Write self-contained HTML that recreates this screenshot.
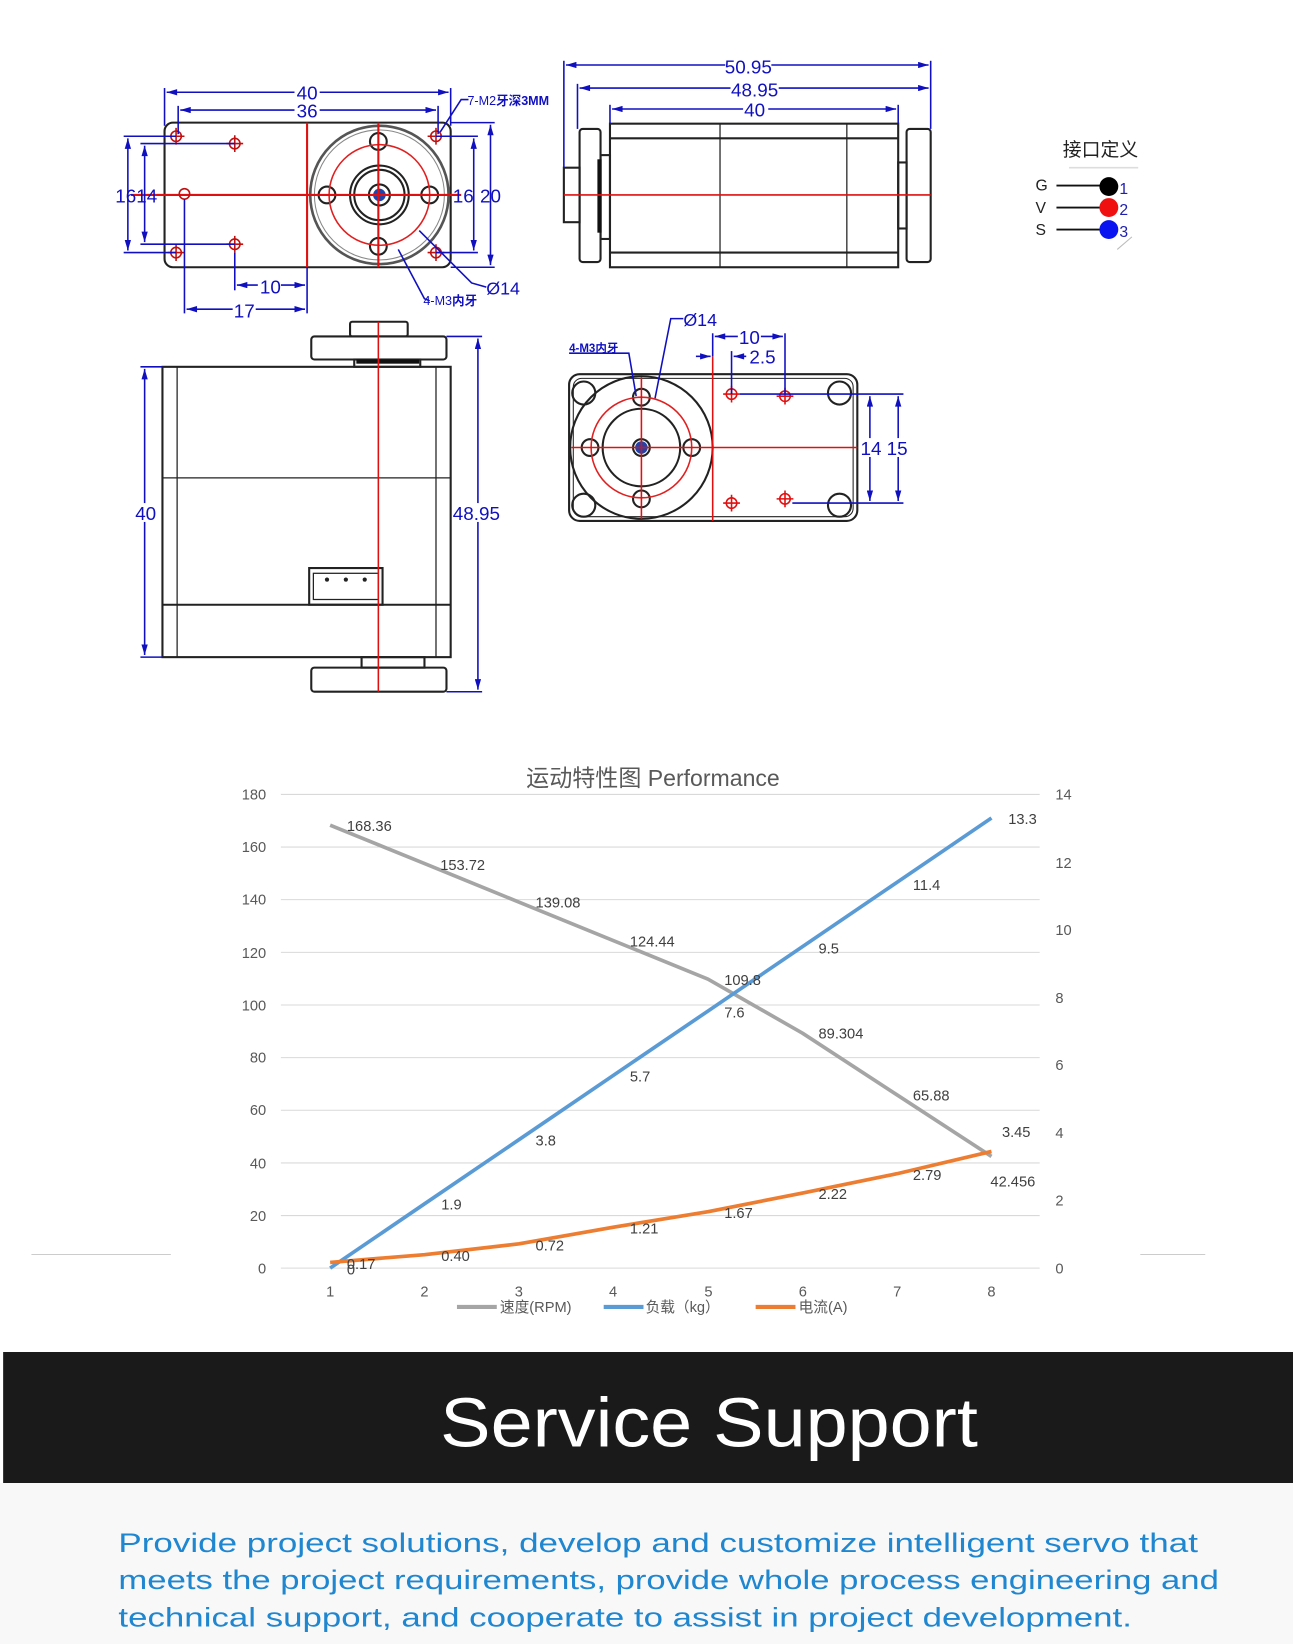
<!DOCTYPE html>
<html><head><meta charset="utf-8"><style>
html,body{margin:0;padding:0;background:#fff;}
svg{display:block;}
text{font-family:"Liberation Sans","Noto Sans CJK SC",sans-serif;}
</style></head><body>
<svg width="1293" height="1644" viewBox="0 0 1233.7 1568.6" xmlns="http://www.w3.org/2000/svg">
<rect width="1233.7" height="1568.6" fill="#fff"/>
<defs>
<marker id="ar" viewBox="0 0 10 6" refX="10" refY="3" markerWidth="8" markerHeight="4" orient="auto-start-reverse"><path d="M0,0 L10,3 L0,6z" fill="#1010c0"/></marker>
</defs>

<!-- ===== Drawing 1 (top-left) ===== -->
<g fill="none" stroke="#222" stroke-width="2">
<rect x="157" y="117" width="273" height="138" rx="8"/>
<circle cx="362" cy="186" r="66" stroke="#555" stroke-width="2.5"/>
<circle cx="362" cy="186" r="62" stroke="#888" stroke-width="1"/>
<circle cx="362" cy="186" r="28"/>
<circle cx="362" cy="186" r="24"/>
<circle cx="362" cy="186" r="10"/>
<circle cx="361" cy="135" r="8"/><circle cx="361" cy="235" r="8"/>
<circle cx="312" cy="186" r="8"/><circle cx="410" cy="186" r="8"/>
</g>
<circle cx="362" cy="186" r="6" fill="#2244aa"/>
<circle cx="362" cy="186" r="48" fill="none" stroke="#e02020" stroke-width="1.5"/>
<g stroke="#e01010" stroke-width="2" fill="none">
<line x1="293" y1="117" x2="293" y2="255"/>
<line x1="125" y1="186" x2="440" y2="186"/>
<line x1="361" y1="117" x2="361" y2="255"/>
</g>
<g stroke="#c01010" stroke-width="1.5" fill="none">
<circle cx="168" cy="130" r="5"/><circle cx="224" cy="137" r="5"/><circle cx="176" cy="185" r="5"/>
<circle cx="224" cy="233" r="5"/><circle cx="168" cy="241" r="5"/><circle cx="416" cy="130" r="5"/><circle cx="416" cy="241" r="5"/>
<path d="M160 130h16M168 122v16M216 137h16M224 129v16M216 233h16M224 225v16M160 241h16M168 233v16M408 130h16M416 122v16M408 241h16M416 233v16"/>
</g>
<g stroke="#1010c0" stroke-width="1.5" fill="none">
<line x1="157" y1="84" x2="157" y2="120"/><line x1="430" y1="84" x2="430" y2="120"/>
<line x1="159" y1="88" x2="428" y2="88" marker-start="url(#ar)" marker-end="url(#ar)"/>
<line x1="170" y1="101" x2="170" y2="128"/><line x1="418" y1="101" x2="418" y2="128"/>
<line x1="172" y1="105" x2="416" y2="105" marker-start="url(#ar)" marker-end="url(#ar)"/>
<line x1="118" y1="130" x2="168" y2="130"/><line x1="118" y1="241" x2="168" y2="241"/>
<line x1="122" y1="132" x2="122" y2="239" marker-start="url(#ar)" marker-end="url(#ar)"/>
<line x1="134" y1="137" x2="224" y2="137"/><line x1="134" y1="233" x2="224" y2="233"/>
<line x1="138" y1="139" x2="138" y2="231" marker-start="url(#ar)" marker-end="url(#ar)"/>
<line x1="416" y1="130" x2="456" y2="130"/><line x1="416" y1="241" x2="456" y2="241"/>
<line x1="452" y1="132" x2="452" y2="239" marker-start="url(#ar)" marker-end="url(#ar)"/>
<line x1="430" y1="117" x2="472" y2="117"/><line x1="430" y1="255" x2="472" y2="255"/>
<line x1="468" y1="119" x2="468" y2="253" marker-start="url(#ar)" marker-end="url(#ar)"/>
<line x1="224" y1="241" x2="224" y2="277"/><line x1="293" y1="255" x2="293" y2="299"/>
<line x1="226" y1="272" x2="291" y2="272" marker-start="url(#ar)" marker-end="url(#ar)"/>
<line x1="176" y1="190" x2="176" y2="299"/>
<line x1="178" y1="295" x2="291" y2="295" marker-start="url(#ar)" marker-end="url(#ar)"/>
<path d="M420 126 L440 95 L447 95"/>
<path d="M400 220 L450 270 L464 274"/>
<path d="M380 238 L405 285 L410 287"/>
</g>
<g fill="#1010c0" font-size="18">
<rect x="281" y="78" width="24" height="18" fill="#fff"/><text x="293" y="95" text-anchor="middle">40</text>
<rect x="281" y="96" width="24" height="18" fill="#fff"/><text x="293" y="112" text-anchor="middle">36</text>
<text x="110" y="193" font-size="18">1614</text>
<text x="432" y="193">16</text><text x="458" y="193">20</text>
<rect x="246" y="264" width="22" height="18" fill="#fff"/><text x="258" y="280" text-anchor="middle">10</text>
<rect x="222" y="287" width="22" height="18" fill="#fff"/><text x="233" y="303" text-anchor="middle">17</text>
<text x="446" y="100" font-size="12">7-M2<tspan font-weight="bold">牙深3MM</tspan></text>
<text x="464" y="281" font-size="17">Ø14</text>
<text x="404" y="291" font-size="12">4-M3<tspan font-weight="bold">内牙</tspan></text>
</g>

<!-- ===== Drawing 2 (top-middle) ===== -->
<g fill="none" stroke="#222" stroke-width="2">
<rect x="582" y="118" width="275" height="137"/>
<line x1="582" y1="132" x2="857" y2="132"/><line x1="582" y1="241" x2="857" y2="241"/>
<line x1="687" y1="118" x2="687" y2="255" stroke-width="1.2"/><line x1="808" y1="118" x2="808" y2="255" stroke-width="1.2"/>
<rect x="553" y="123" width="20" height="127" rx="3"/>
<rect x="538" y="160" width="15" height="52"/>
<rect x="573" y="148" width="9" height="80"/>
<rect x="865" y="123" width="23" height="127" rx="3"/>
<rect x="857" y="155" width="8" height="63"/>
</g>
<rect x="570" y="152" width="4" height="70" fill="#111"/>
<line x1="538" y1="186" x2="888" y2="186" stroke="#e01010" stroke-width="1.5"/>
<g stroke="#1010c0" stroke-width="1.5" fill="none">
<line x1="538" y1="58" x2="538" y2="160"/><line x1="888" y1="58" x2="888" y2="123"/>
<line x1="540" y1="62" x2="886" y2="62" marker-start="url(#ar)" marker-end="url(#ar)"/>
<line x1="551" y1="80" x2="551" y2="123"/>
<line x1="553" y1="84" x2="886" y2="84" marker-start="url(#ar)" marker-end="url(#ar)"/>
<line x1="582" y1="100" x2="582" y2="118"/><line x1="857" y1="100" x2="857" y2="118"/>
<line x1="584" y1="104" x2="855" y2="104" marker-start="url(#ar)" marker-end="url(#ar)"/>
</g>
<g fill="#1010c0" font-size="18" text-anchor="middle">
<rect x="692" y="54" width="44" height="17" fill="#fff"/><text x="714" y="70">50.95</text>
<rect x="697" y="76" width="46" height="17" fill="#fff"/><text x="720" y="92">48.95</text>
<rect x="709" y="96" width="24" height="16" fill="#fff"/><text x="720" y="111">40</text>
</g>

<!-- connector legend -->
<text x="1050" y="149" font-size="18" text-anchor="middle" fill="#222">接口定义</text>
<line x1="1020" y1="160" x2="1086" y2="160" stroke="#ddd" stroke-width="1.5"/>
<g font-size="15" fill="#222">
<text x="988" y="182">G</text><text x="988" y="203">V</text><text x="988" y="224">S</text>
</g>
<g stroke="#111" stroke-width="1.8">
<line x1="1008" y1="177" x2="1050" y2="177"/><line x1="1008" y1="198" x2="1050" y2="198"/><line x1="1008" y1="219" x2="1050" y2="219"/>
</g>
<circle cx="1058" cy="178" r="9" fill="#000"/>
<circle cx="1058" cy="198" r="9" fill="#f01010"/>
<circle cx="1058" cy="219" r="9" fill="#0a14f0"/>
<g fill="#2020b0" font-size="15"><text x="1068" y="185">1</text><text x="1068" y="205">2</text><text x="1068" y="226">3</text></g>
<line x1="1066" y1="238" x2="1080" y2="226" stroke="#bbb" stroke-width="1"/>

<!-- ===== Drawing 3 (bottom-left) ===== -->
<g fill="none" stroke="#222" stroke-width="2">
<rect x="155" y="350" width="275" height="277"/>
<line x1="169" y1="350" x2="169" y2="627" stroke-width="1.2"/><line x1="416" y1="350" x2="416" y2="627" stroke-width="1.2"/>
<line x1="155" y1="456" x2="430" y2="456" stroke-width="1.2"/>
<line x1="155" y1="577" x2="430" y2="577"/>
<rect x="297" y="321" width="129" height="22" rx="3"/>
<rect x="334" y="307" width="55" height="14" rx="2"/>
<rect x="338" y="343" width="63" height="7"/>
<rect x="297" y="637" width="129" height="23" rx="3"/>
<rect x="345" y="627" width="60" height="10"/>
<rect x="295" y="542" width="70" height="35"/>
<rect x="299" y="547" width="62" height="25" stroke-width="1.2"/>
</g>
<rect x="340" y="343" width="60" height="4" fill="#111"/>
<g fill="#222"><circle cx="312" cy="553" r="2"/><circle cx="330" cy="553" r="2"/><circle cx="348" cy="553" r="2"/></g>
<line x1="361" y1="307" x2="361" y2="660" stroke="#e01010" stroke-width="1.5"/>
<g stroke="#1010c0" stroke-width="1.5" fill="none">
<line x1="134" y1="350" x2="155" y2="350"/><line x1="134" y1="627" x2="155" y2="627"/>
<line x1="138" y1="352" x2="138" y2="625" marker-start="url(#ar)" marker-end="url(#ar)"/>
<line x1="426" y1="321" x2="460" y2="321"/><line x1="426" y1="660" x2="460" y2="660"/>
<line x1="456" y1="323" x2="456" y2="658" marker-start="url(#ar)" marker-end="url(#ar)"/>
</g>
<g fill="#1010c0" font-size="18">
<rect x="128" y="480" width="20" height="18" fill="#fff"/><text x="129" y="496">40</text>
<rect x="432" y="480" width="48" height="18" fill="#fff"/><text x="432" y="496">48.95</text>
</g>

<!-- ===== Drawing 4 (bottom-middle) ===== -->
<g fill="none" stroke="#222" stroke-width="2">
<rect x="543" y="357" width="275" height="140" rx="10"/>
<rect x="547" y="361" width="267" height="132" rx="8" stroke-width="1"/>
<circle cx="612" cy="427" r="68"/>
<circle cx="612" cy="427" r="37"/>
<circle cx="612" cy="427" r="8"/>
<circle cx="612" cy="379" r="8"/><circle cx="612" cy="476" r="8"/><circle cx="563" cy="427" r="8"/><circle cx="660" cy="427" r="8"/>
<circle cx="557" cy="375" r="11"/><circle cx="557" cy="482" r="11"/><circle cx="801" cy="375" r="11"/><circle cx="801" cy="482" r="11"/>
</g>
<circle cx="612" cy="427" r="6" fill="#2244aa"/>
<circle cx="612" cy="427" r="48" fill="none" stroke="#e02020" stroke-width="1.5"/>
<g stroke="#e01010" stroke-width="1.5" fill="none">
<line x1="680" y1="340" x2="680" y2="497"/>
<line x1="545" y1="427" x2="818" y2="427"/>
<line x1="612" y1="360" x2="612" y2="495"/>
<circle cx="698" cy="376" r="5"/><circle cx="749" cy="378" r="5"/><circle cx="698" cy="480" r="5"/><circle cx="749" cy="476" r="5"/>
<path d="M690 376h16M698 368v16M741 378h16M749 370v16M690 480h16M698 472v16M741 476h16M749 468v16"/>
</g>
<g stroke="#1010c0" stroke-width="1.5" fill="none">
<line x1="680" y1="318" x2="680" y2="340"/><line x1="749" y1="318" x2="749" y2="376"/>
<line x1="682" y1="321" x2="747" y2="321" marker-start="url(#ar)" marker-end="url(#ar)"/>
<line x1="698" y1="335" x2="698" y2="376"/>
<line x1="664" y1="340" x2="678" y2="340" marker-end="url(#ar)"/>
<line x1="700" y1="340" x2="712" y2="340" marker-start="url(#ar)"/>
<line x1="706" y1="376" x2="862" y2="376"/><line x1="756" y1="480" x2="862" y2="480"/>
<line x1="830" y1="378" x2="830" y2="478" marker-start="url(#ar)" marker-end="url(#ar)"/>
<line x1="857" y1="378" x2="857" y2="478" marker-start="url(#ar)" marker-end="url(#ar)"/>
<path d="M543 337 L600 337 L607 378"/>
<path d="M625 380 L640 304 L652 304"/>
</g>
<g fill="#1010c0" font-size="18">
<text x="652" y="311" font-size="17">Ø14</text>
<rect x="704" y="312" width="22" height="16" fill="#fff"/><text x="705" y="328">10</text>
<text x="715" y="347">2.5</text>
<rect x="820" y="418" width="48" height="18" fill="#fff"/><text x="821" y="434">14</text><text x="846" y="434">15</text>
<text x="543" y="336" font-size="11" font-weight="bold">4-M3内牙</text>
</g>

<!-- ===== Chart ===== -->
<text x="623" y="750" font-size="22" fill="#595959" text-anchor="middle">运动特性图 Performance</text>
<g stroke="#d9d9d9" stroke-width="1">
<line x1="268" y1="758" x2="992" y2="758"/><line x1="268" y1="808.2" x2="992" y2="808.2"/>
<line x1="268" y1="858.4" x2="992" y2="858.4"/><line x1="268" y1="908.7" x2="992" y2="908.7"/>
<line x1="268" y1="958.9" x2="992" y2="958.9"/><line x1="268" y1="1009.1" x2="992" y2="1009.1"/>
<line x1="268" y1="1059.3" x2="992" y2="1059.3"/><line x1="268" y1="1109.6" x2="992" y2="1109.6"/>
<line x1="268" y1="1159.8" x2="992" y2="1159.8"/><line x1="268" y1="1210" x2="992" y2="1210"/>
</g>
<g font-size="14" fill="#595959" text-anchor="end">
<text x="254" y="763">180</text><text x="254" y="813">160</text><text x="254" y="863">140</text><text x="254" y="914">120</text>
<text x="254" y="964">100</text><text x="254" y="1014">80</text><text x="254" y="1064">60</text><text x="254" y="1115">40</text>
<text x="254" y="1165">20</text><text x="254" y="1215">0</text>
</g>
<g font-size="14" fill="#595959">
<text x="1007" y="763">14</text><text x="1007" y="828">12</text><text x="1007" y="892">10</text><text x="1007" y="957">8</text>
<text x="1007" y="1021">6</text><text x="1007" y="1086">4</text><text x="1007" y="1150">2</text><text x="1007" y="1215">0</text>
</g>
<g font-size="14" fill="#595959" text-anchor="middle">
<text x="315" y="1237">1</text><text x="405" y="1237">2</text><text x="495" y="1237">3</text><text x="585" y="1237">4</text>
<text x="676" y="1237">5</text><text x="766" y="1237">6</text><text x="856" y="1237">7</text><text x="946" y="1237">8</text>
</g>
<polyline fill="none" stroke="#a5a5a5" stroke-width="3.5" stroke-linejoin="round" points="315,787.3 405.1,824 495.3,860.8 585.4,897.5 675.6,934.3 765.7,985.8 855.8,1044.6 946,1103.4"/>
<polyline fill="none" stroke="#5b9bd5" stroke-width="3.5" stroke-linejoin="round" points="315,1210 405.1,1148.6 495.3,1087.3 585.4,1025.9 675.6,964.6 765.7,903.2 855.8,841.9 946,780.5"/>
<polyline fill="none" stroke="#ed7d31" stroke-width="3.5" stroke-linejoin="round" points="315,1204.5 405.1,1197.1 495.3,1186.8 585.4,1170.9 675.6,1156.1 765.7,1138.3 855.8,1119.9 946,1098.6"/>
<g font-size="14" fill="#404040">
<text x="331" y="793">168.36</text><text x="420" y="830">153.72</text><text x="511" y="866">139.08</text><text x="601" y="903">124.44</text>
<text x="691" y="940">109.8</text><text x="781" y="991">89.304</text><text x="871" y="1050">65.88</text><text x="945" y="1132">42.456</text>
<text x="331" y="1216">0</text><text x="421" y="1154">1.9</text><text x="511" y="1093">3.8</text><text x="601" y="1032">5.7</text>
<text x="691" y="971">7.6</text><text x="781" y="910">9.5</text><text x="871" y="849">11.4</text><text x="962" y="786">13.3</text>
<text x="331" y="1211">0.17</text><text x="421" y="1203">0.40</text><text x="511" y="1193">0.72</text><text x="601" y="1177">1.21</text>
<text x="691" y="1162">1.67</text><text x="781" y="1144">2.22</text><text x="871" y="1126">2.79</text><text x="956" y="1085">3.45</text>
</g>
<g stroke-width="4">
<line x1="436" y1="1247" x2="474" y2="1247" stroke="#a5a5a5"/>
<line x1="576" y1="1247" x2="614" y2="1247" stroke="#5b9bd5"/>
<line x1="721" y1="1247" x2="759" y2="1247" stroke="#ed7d31"/>
</g>
<g font-size="14" fill="#595959">
<text x="477" y="1252">速度(RPM)</text><text x="616" y="1252">负载（kg）</text><text x="762" y="1252">电流(A)</text>
</g>
<line x1="30" y1="1197" x2="163" y2="1197" stroke="#ccc" stroke-width="1"/>
<line x1="1088" y1="1197" x2="1150" y2="1197" stroke="#ccc" stroke-width="1"/>

<!-- ===== Service Support ===== -->
<rect x="3" y="1290" width="1231" height="125" fill="#1a1a1a"/>
<rect x="0" y="1415" width="1233.7" height="154" fill="#f8f8f8"/>
<text x="420" y="1380" font-size="66" fill="#fff" textLength="513" lengthAdjust="spacingAndGlyphs">Service Support</text>
<g font-size="26" fill="#1f86d0">
<text x="113" y="1481" textLength="1030" lengthAdjust="spacingAndGlyphs">Provide project solutions, develop and customize intelligent servo that</text>
<text x="113" y="1516" textLength="1050" lengthAdjust="spacingAndGlyphs">meets the project requirements, provide whole process engineering and</text>
<text x="113" y="1552" textLength="967" lengthAdjust="spacingAndGlyphs">technical support, and cooperate to assist in project development.</text>
</g>
</svg>
</body></html>
